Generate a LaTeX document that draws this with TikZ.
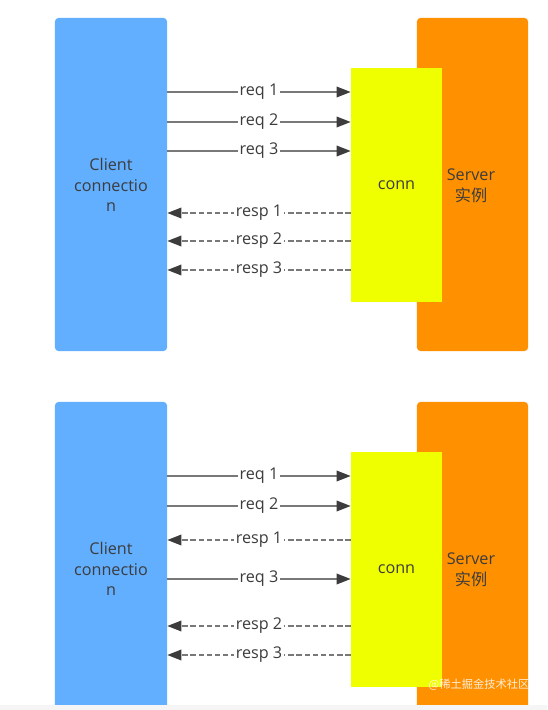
\documentclass[tikz,border=0pt]{standalone}
\usepackage{fontspec}
\setmainfont{Open Sans}
\newfontfamily\cjk{Noto Sans CJK SC}
\usetikzlibrary{positioning, arrows.meta}

\definecolor{clientblue}{RGB}{98,174,255}
\definecolor{serverorange}{RGB}{255,144,0}
\definecolor{connyellow}{RGB}{240,255,0}
\definecolor{textgray}{RGB}{60,60,60}
\definecolor{linegray}{RGB}{120,120,120}

\begin{document}
\begin{tikzpicture}[
    x=0.025cm, y=-0.025cm,
    font=\fontsize{11.5}{14.5}\selectfont,
    block/.style={rectangle, rounded corners=2.5pt, text=textgray, align=center, inner sep=0pt},
    client/.style={block, fill=clientblue, minimum width=2.8cm, minimum height=8.325cm},
    server/.style={block, fill=serverorange, minimum width=2.775cm, minimum height=8.325cm},
    conn/.style={block, rounded corners=0pt, fill=connyellow, minimum width=2.275cm, minimum height=5.85cm},
    req/.style={draw=linegray, line width=1.2pt, -{Triangle[length=10pt, width=7.5pt, color=textgray]}},
    resp/.style={req, dash pattern=on 3.8pt off 2pt},
    msg/.style={fill=white, text=textgray, inner sep=1.5pt}
]
\useasboundingbox (0,0) rectangle (547,710);
\clip (0,0) rectangle (547,710);

% Top: responses come back in order
\node[client] (client_top) at (111,184.5) {};
\node[server] (server_top) at (472.5,184.5) {};
\node[conn] (conn_top) at (396.5,185) {};
\node[text=textgray, align=center] (client_top_label) at (111,185) {Client\\connectio\\n};
\node[text=textgray] (conn_top_label) at (396.5,185) {conn};
\node[text=textgray, align=center, font=\fontsize{11.5}{15}\selectfont] (server_top_label) at (471,186) {Server\\{\cjk 实例}};

\foreach \y/\txt in {92/req 1, 122/req 2, 151/req 3}
    \draw[req] (client_top.east |- 0,\y) -- node[msg] {\txt} (conn_top.west |- 0,\y);
\foreach \y/\txt in {213/resp 1, 241/resp 2, 270/resp 3}
    \draw[resp] (conn_top.west |- 0,\y) -- node[msg] {\txt} (client_top.east |- 0,\y);

% Bottom: requests and responses interleaved
\node[client] (client_bot) at (111,568.5) {};
\node[server] (server_bot) at (472.5,568.5) {};
\node[conn, minimum height=5.875cm] (conn_bot) at (396.5,569.5) {};
\node[text=textgray, align=center] (client_bot_label) at (111,569) {Client\\connectio\\n};
\node[text=textgray] (conn_bot_label) at (396.5,569) {conn};
\node[text=textgray, align=center, font=\fontsize{11.5}{15}\selectfont] (server_bot_label) at (471,570) {Server\\{\cjk 实例}};

\foreach \y/\txt in {476/req 1, 506/req 2, 579/req 3}
    \draw[req] (client_bot.east |- 0,\y) -- node[msg] {\txt} (conn_bot.west |- 0,\y);
\foreach \y/\txt in {540/resp 1, 626/resp 2, 655/resp 3}
    \draw[resp] (conn_bot.west |- 0,\y) -- node[msg] {\txt} (client_bot.east |- 0,\y);

% page edge and watermark
\fill[gray!8] (0,705) rectangle (547,710);
\node[text=white, opacity=0.85, font=\cjk\fontsize{8}{9}\selectfont] (mark) at (479,685) {@稀土掘金技术社区};

\end{tikzpicture}
\end{document}
